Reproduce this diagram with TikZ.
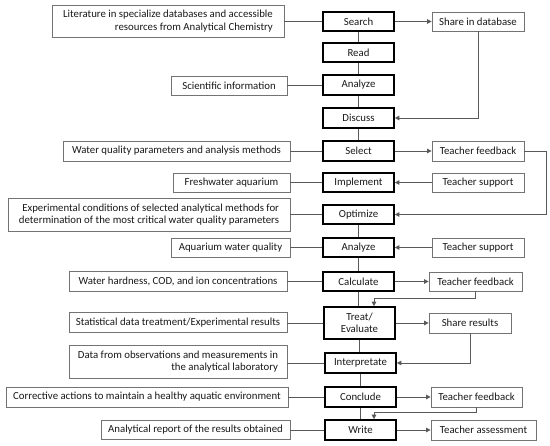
\documentclass[tikz,border=0pt]{standalone}
\usepackage{fontspec}
\setmainfont{Carlito}
\usetikzlibrary{arrows.meta}
\tikzset{
  base/.style={inner sep=0pt, font=\fontsize{10.8}{12.5}\selectfont, text=black!90},
  lbox/.style={base, draw=black!55, line width=0.8pt, align=right},
  sbox/.style={base, draw=black, line width=1.6pt, align=center, minimum width=71pt},
  rbox/.style={base, draw=black!55, line width=0.8pt, align=center},
  conn/.style={draw=black!65, line width=0.8pt},
  arr/.style={conn, -{Triangle[length=4.5pt,width=4.5pt]}}
}
\begin{document}
\begin{tikzpicture}[x=1pt,y=-1pt]
\useasboundingbox[fill=white] (0,0) rectangle (550,446);
% centre column
\node[sbox, minimum height=19pt] (search) at (358.5,21.5) {Search};
\node[sbox, minimum height=19pt] (read) at (358.5,52.5) {Read};
\node[sbox, minimum height=20pt] (an1) at (358.5,85) {Analyze};
\node[sbox, minimum height=20pt] (disc) at (358.5,118) {Discuss};
\node[sbox, minimum height=20pt] (sel) at (358.5,151) {Select};
\node[sbox, minimum height=19pt] (imp) at (358.5,182.5) {Implement};
\node[sbox, minimum height=19pt] (opt) at (358.5,214.5) {Optimize};
\node[sbox, minimum height=19pt] (an2) at (358.5,247.5) {Analyze};
\node[sbox, minimum height=19pt] (calc) at (358.5,281.5) {Calculate};
\node[sbox, minimum height=32pt] (treat) at (359.5,323) {Treat/\\Evaluate};
\node[sbox, minimum height=20pt] (interp) at (360.5,363) {Interpretate};
\node[sbox, minimum height=20pt] (conc) at (360.5,397) {Conclude};
\node[sbox, minimum height=20pt] (write) at (360.5,430) {Write};
% right column
\node[rbox, minimum width=92pt, minimum height=19pt] (sdb) at (478,21.5) {Share in database};
\node[rbox, minimum width=92pt, minimum height=20pt] (tf1) at (478,151) {Teacher feedback};
\node[rbox, minimum width=92pt, minimum height=19pt] (ts1) at (478,182.5) {Teacher support};
\node[rbox, minimum width=92pt, minimum height=19pt] (ts2) at (478,247.5) {Teacher support};
\node[rbox, minimum width=93pt, minimum height=19pt] (tf2) at (475.5,281.5) {Teacher feedback};
\node[rbox, minimum width=82pt, minimum height=20pt] (sr) at (470,323) {Share results};
\node[rbox, minimum width=91pt, minimum height=20pt] (tf3) at (476.5,397) {Teacher feedback};
\node[rbox, minimum width=105pt, minimum height=20pt] (ta) at (483.5,430) {Teacher assessment};
% left column
\node[lbox, minimum width=232pt, minimum height=32pt] (lit) at (168,21) {Literature in specialize databases and accessible\\resources from Analytical Chemistry};
\node[lbox, minimum width=116pt, minimum height=19pt] (sci) at (229,85.5) {Scientific information};
\node[lbox, minimum width=227pt, minimum height=20pt] (wq) at (176.5,151) {Water quality parameters and analysis methods};
\node[lbox, minimum width=117pt, minimum height=19pt] (fresh) at (231.5,182.5) {Freshwater aquarium};
\node[lbox, minimum width=282pt, minimum height=33pt] (exp) at (149,214.5) {Experimental conditions of selected analytical methods for\\determination of the most critical water quality parameters};
\node[lbox, minimum width=119pt, minimum height=19pt] (awq) at (230.5,247.5) {Aquarium water quality};
\node[lbox, minimum width=218pt, minimum height=20pt] (wh) at (178,281.5) {Water hardness, COD, and ion concentrations};
\node[lbox, minimum width=218pt, minimum height=20pt] (stat) at (178,322.5) {Statistical data treatment/Experimental results};
\node[lbox, minimum width=218pt, minimum height=33pt] (data) at (178,361.5) {Data from observations and measurements in\\the analytical laboratory};
\node[lbox, minimum width=282pt, minimum height=20pt] (corr) at (147,397) {Corrective actions to maintain a healthy aquatic environment};
\node[lbox, minimum width=189pt, minimum height=19pt] (rep) at (195.5,429.5) {Analytical report of the results obtained};
% centre vertical connectors
\draw[conn] (search) -- (read);
\draw[conn] (read) -- (an1);
\draw[conn] (an1) -- (disc);
\draw[conn] (disc) -- (sel);
\draw[conn] (opt) -- (an2);
\draw[conn] (an2) -- (calc);
\draw[conn] (calc.south) -- (treat.north -| calc.south);
\draw[conn] (treat.south) -- (interp.north -| treat.south);
\draw[conn] (interp) -- (conc);
\draw[conn] (conc) -- (write);
% left connectors
\draw[conn] (search.west) -- (search.west -| lit.east);
\draw[conn] (an1.west) -- (an1.west -| sci.east);
\draw[conn] (sel.west) -- (sel.west -| wq.east);
\draw[conn] (imp.west) -- (imp.west -| fresh.east);
\draw[conn] (opt.west) -- (opt.west -| exp.east);
\draw[conn] (an2.west) -- (an2.west -| awq.east);
\draw[conn] (calc.west) -- (calc.west -| wh.east);
\draw[conn] (treat.west) -- (treat.west -| stat.east);
\draw[conn] (interp.west) -- (interp.west -| data.east);
\draw[conn] (conc.west) -- (conc.west -| corr.east);
\draw[conn] (write.west) -- (write.west -| rep.east);
% right connectors
\coordinate (cr) at (546,0);
\coordinate (c2) at (374,298);
\coordinate (c3) at (374,412);
\draw[arr] (search.east) -- (sdb.west);
\draw[arr] (sdb.south) |- (disc.east);
\draw[arr] (sel.east) -- (tf1.west);
\draw[arr] (tf1.east) -- (tf1.east -| cr) |- (opt.east);
\draw[arr] (ts1.west) -- (imp.east);
\draw[arr] (ts2.west) -- (an2.east);
\draw[arr] (calc.east) -- (tf2.west);
\draw[arr] (tf2.south) |- (c2) -- (c2 |- treat.north);
\draw[arr] (treat.east) -- (sr.west);
\draw[arr] (sr.south) |- (interp.east);
\draw[arr] (conc.east) -- (tf3.west);
\draw[arr] (tf3.south) |- (c3) -- (c3 |- write.north);
\draw[arr] (write.east) -- (ta.west);
\end{tikzpicture}
\end{document}
